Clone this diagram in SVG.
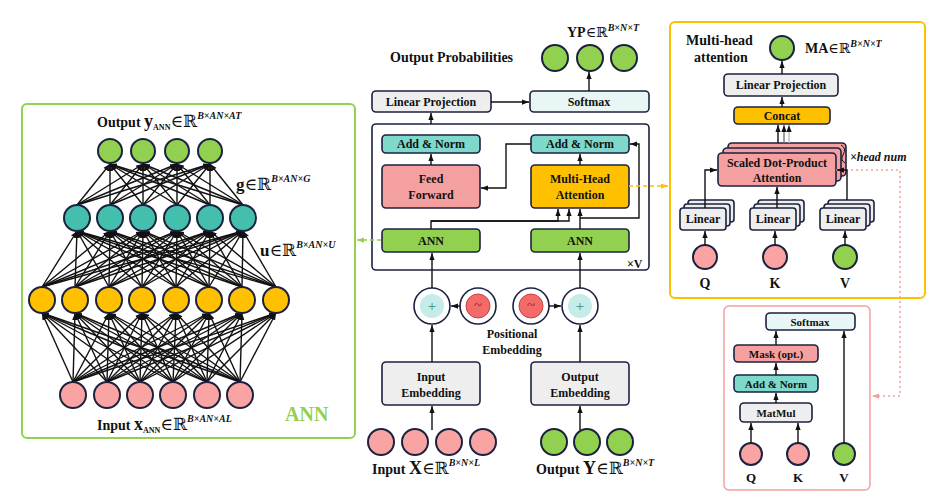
<svg xmlns="http://www.w3.org/2000/svg" width="948" height="504" viewBox="0 0 948 504">
<style>
text{font-family:"Liberation Serif",serif;font-weight:bold;fill:#111}
.b{stroke:#1b2240;stroke-width:1.6}
.c{stroke:#1b2240;stroke-width:2}
.w{stroke:#111;stroke-width:1.4;marker-end:url(#a)}
.k{stroke:#111;stroke-width:1.4;fill:none;marker-end:url(#a)}
.t{font-size:12px;text-anchor:middle}
.s{font-size:10px;font-style:italic}
.r{font-family:"DejaVu Serif",serif;font-weight:normal}
</style>
<defs>
<marker id="a" viewBox="0 0 8 6" refX="8" refY="3" markerWidth="7" markerHeight="6" markerUnits="userSpaceOnUse" orient="auto"><path d="M0,0L8,3L0,6z" fill="#111"/></marker>
<marker id="ao" viewBox="0 0 8 6" refX="8" refY="3" markerWidth="7" markerHeight="6" markerUnits="userSpaceOnUse" orient="auto"><path d="M0,0L8,3L0,6z" fill="#ffc000"/></marker>
<marker id="ag" viewBox="0 0 8 6" refX="8" refY="3" markerWidth="7" markerHeight="6" markerUnits="userSpaceOnUse" orient="auto"><path d="M0,0L8,3L0,6z" fill="#92d050"/></marker>
<marker id="ap" viewBox="0 0 8 6" refX="8" refY="3" markerWidth="7" markerHeight="6" markerUnits="userSpaceOnUse" orient="auto"><path d="M0,0L8,3L0,6z" fill="#f4a0a0"/></marker>
</defs>
<rect width="948" height="504" fill="#fff"/>

<g id="ann-panel">
<rect x="22" y="104" width="333" height="334" rx="5" fill="none" stroke="#92d050" stroke-width="2"/>
<text x="285" y="421" style="font-size:20px;fill:#92d050">ANN</text>
<text x="97" y="127" style="font-size:14px">Output  <tspan font-size="18">y</tspan><tspan font-size="8" dy="3">ANN</tspan><tspan class="r" font-size="17" dy="-3">∈ℝ</tspan><tspan class="s" dy="-8">B×AN×AT</tspan></text>
<text x="236" y="190" style="font-size:17px">g<tspan class="r">∈ℝ</tspan><tspan class="s" dy="-8">B×AN×G</tspan></text>
<text x="260" y="256" style="font-size:17px">u<tspan class="r">∈ℝ</tspan><tspan class="s" dy="-8">B×AN×U</tspan></text>
<text x="97" y="430" style="font-size:14px">Input  <tspan font-size="18">x</tspan><tspan font-size="8" dy="3">ANN</tspan><tspan class="r" font-size="17" dy="-3">∈ℝ</tspan><tspan class="s" dy="-8">B×AN×AL</tspan></text>
<g id="ann-lines">
<line class="w" x1="73" y1="382" x2="42" y2="313"/><line class="w" x1="73" y1="382" x2="75" y2="313"/><line class="w" x1="73" y1="382" x2="109" y2="313"/><line class="w" x1="73" y1="382" x2="142" y2="313"/><line class="w" x1="73" y1="382" x2="176" y2="313"/><line class="w" x1="73" y1="382" x2="209" y2="313"/><line class="w" x1="73" y1="382" x2="242" y2="313"/><line class="w" x1="73" y1="382" x2="276" y2="313"/>
<line class="w" x1="107" y1="382" x2="42" y2="313"/><line class="w" x1="107" y1="382" x2="75" y2="313"/><line class="w" x1="107" y1="382" x2="109" y2="313"/><line class="w" x1="107" y1="382" x2="142" y2="313"/><line class="w" x1="107" y1="382" x2="176" y2="313"/><line class="w" x1="107" y1="382" x2="209" y2="313"/><line class="w" x1="107" y1="382" x2="242" y2="313"/><line class="w" x1="107" y1="382" x2="276" y2="313"/>
<line class="w" x1="140" y1="382" x2="42" y2="313"/><line class="w" x1="140" y1="382" x2="75" y2="313"/><line class="w" x1="140" y1="382" x2="109" y2="313"/><line class="w" x1="140" y1="382" x2="142" y2="313"/><line class="w" x1="140" y1="382" x2="176" y2="313"/><line class="w" x1="140" y1="382" x2="209" y2="313"/><line class="w" x1="140" y1="382" x2="242" y2="313"/><line class="w" x1="140" y1="382" x2="276" y2="313"/>
<line class="w" x1="173" y1="382" x2="42" y2="313"/><line class="w" x1="173" y1="382" x2="75" y2="313"/><line class="w" x1="173" y1="382" x2="109" y2="313"/><line class="w" x1="173" y1="382" x2="142" y2="313"/><line class="w" x1="173" y1="382" x2="176" y2="313"/><line class="w" x1="173" y1="382" x2="209" y2="313"/><line class="w" x1="173" y1="382" x2="242" y2="313"/><line class="w" x1="173" y1="382" x2="276" y2="313"/>
<line class="w" x1="207" y1="382" x2="42" y2="313"/><line class="w" x1="207" y1="382" x2="75" y2="313"/><line class="w" x1="207" y1="382" x2="109" y2="313"/><line class="w" x1="207" y1="382" x2="142" y2="313"/><line class="w" x1="207" y1="382" x2="176" y2="313"/><line class="w" x1="207" y1="382" x2="209" y2="313"/><line class="w" x1="207" y1="382" x2="242" y2="313"/><line class="w" x1="207" y1="382" x2="276" y2="313"/>
<line class="w" x1="240" y1="382" x2="42" y2="313"/><line class="w" x1="240" y1="382" x2="75" y2="313"/><line class="w" x1="240" y1="382" x2="109" y2="313"/><line class="w" x1="240" y1="382" x2="142" y2="313"/><line class="w" x1="240" y1="382" x2="176" y2="313"/><line class="w" x1="240" y1="382" x2="209" y2="313"/><line class="w" x1="240" y1="382" x2="242" y2="313"/><line class="w" x1="240" y1="382" x2="276" y2="313"/>
<line class="w" x1="42" y1="287" x2="77" y2="231"/><line class="w" x1="42" y1="287" x2="110" y2="231"/><line class="w" x1="42" y1="287" x2="143" y2="231"/><line class="w" x1="42" y1="287" x2="177" y2="231"/><line class="w" x1="42" y1="287" x2="210" y2="231"/><line class="w" x1="42" y1="287" x2="243" y2="231"/>
<line class="w" x1="75" y1="287" x2="77" y2="231"/><line class="w" x1="75" y1="287" x2="110" y2="231"/><line class="w" x1="75" y1="287" x2="143" y2="231"/><line class="w" x1="75" y1="287" x2="177" y2="231"/><line class="w" x1="75" y1="287" x2="210" y2="231"/><line class="w" x1="75" y1="287" x2="243" y2="231"/>
<line class="w" x1="109" y1="287" x2="77" y2="231"/><line class="w" x1="109" y1="287" x2="110" y2="231"/><line class="w" x1="109" y1="287" x2="143" y2="231"/><line class="w" x1="109" y1="287" x2="177" y2="231"/><line class="w" x1="109" y1="287" x2="210" y2="231"/><line class="w" x1="109" y1="287" x2="243" y2="231"/>
<line class="w" x1="142" y1="287" x2="77" y2="231"/><line class="w" x1="142" y1="287" x2="110" y2="231"/><line class="w" x1="142" y1="287" x2="143" y2="231"/><line class="w" x1="142" y1="287" x2="177" y2="231"/><line class="w" x1="142" y1="287" x2="210" y2="231"/><line class="w" x1="142" y1="287" x2="243" y2="231"/>
<line class="w" x1="176" y1="287" x2="77" y2="231"/><line class="w" x1="176" y1="287" x2="110" y2="231"/><line class="w" x1="176" y1="287" x2="143" y2="231"/><line class="w" x1="176" y1="287" x2="177" y2="231"/><line class="w" x1="176" y1="287" x2="210" y2="231"/><line class="w" x1="176" y1="287" x2="243" y2="231"/>
<line class="w" x1="209" y1="287" x2="77" y2="231"/><line class="w" x1="209" y1="287" x2="110" y2="231"/><line class="w" x1="209" y1="287" x2="143" y2="231"/><line class="w" x1="209" y1="287" x2="177" y2="231"/><line class="w" x1="209" y1="287" x2="210" y2="231"/><line class="w" x1="209" y1="287" x2="243" y2="231"/>
<line class="w" x1="242" y1="287" x2="77" y2="231"/><line class="w" x1="242" y1="287" x2="110" y2="231"/><line class="w" x1="242" y1="287" x2="143" y2="231"/><line class="w" x1="242" y1="287" x2="177" y2="231"/><line class="w" x1="242" y1="287" x2="210" y2="231"/><line class="w" x1="242" y1="287" x2="243" y2="231"/>
<line class="w" x1="276" y1="287" x2="77" y2="231"/><line class="w" x1="276" y1="287" x2="110" y2="231"/><line class="w" x1="276" y1="287" x2="143" y2="231"/><line class="w" x1="276" y1="287" x2="177" y2="231"/><line class="w" x1="276" y1="287" x2="210" y2="231"/><line class="w" x1="276" y1="287" x2="243" y2="231"/>
<line class="w" x1="77" y1="205" x2="110" y2="164"/><line class="w" x1="77" y1="205" x2="143" y2="164"/><line class="w" x1="77" y1="205" x2="177" y2="164"/><line class="w" x1="77" y1="205" x2="210" y2="164"/>
<line class="w" x1="110" y1="205" x2="110" y2="164"/><line class="w" x1="110" y1="205" x2="143" y2="164"/><line class="w" x1="110" y1="205" x2="177" y2="164"/><line class="w" x1="110" y1="205" x2="210" y2="164"/>
<line class="w" x1="143" y1="205" x2="110" y2="164"/><line class="w" x1="143" y1="205" x2="143" y2="164"/><line class="w" x1="143" y1="205" x2="177" y2="164"/><line class="w" x1="143" y1="205" x2="210" y2="164"/>
<line class="w" x1="177" y1="205" x2="110" y2="164"/><line class="w" x1="177" y1="205" x2="143" y2="164"/><line class="w" x1="177" y1="205" x2="177" y2="164"/><line class="w" x1="177" y1="205" x2="210" y2="164"/>
<line class="w" x1="210" y1="205" x2="110" y2="164"/><line class="w" x1="210" y1="205" x2="143" y2="164"/><line class="w" x1="210" y1="205" x2="177" y2="164"/><line class="w" x1="210" y1="205" x2="210" y2="164"/>
<line class="w" x1="243" y1="205" x2="110" y2="164"/><line class="w" x1="243" y1="205" x2="143" y2="164"/><line class="w" x1="243" y1="205" x2="177" y2="164"/><line class="w" x1="243" y1="205" x2="210" y2="164"/>
</g>
<g id="ann-nodes" class="c">
<g fill="#92d050"><circle cx="110" cy="151" r="12"/><circle cx="143" cy="151" r="12"/><circle cx="177" cy="151" r="12"/><circle cx="210" cy="151" r="12"/></g>
<g fill="#45bfad"><circle cx="77" cy="218" r="13"/><circle cx="110" cy="218" r="13"/><circle cx="143" cy="218" r="13"/><circle cx="177" cy="218" r="13"/><circle cx="210" cy="218" r="13"/><circle cx="243" cy="218" r="13"/></g>
<g fill="#ffc000"><circle cx="42" cy="300" r="13"/><circle cx="75" cy="300" r="13"/><circle cx="109" cy="300" r="13"/><circle cx="142" cy="300" r="13"/><circle cx="176" cy="300" r="13"/><circle cx="209" cy="300" r="13"/><circle cx="242" cy="300" r="13"/><circle cx="276" cy="300" r="13"/></g>
<g fill="#f9a3a3"><circle cx="73" cy="395" r="13"/><circle cx="107" cy="395" r="13"/><circle cx="140" cy="395" r="13"/><circle cx="173" cy="395" r="13"/><circle cx="207" cy="395" r="13"/><circle cx="240" cy="395" r="13"/></g>
</g>
</g>

<g id="transformer">
<text x="390" y="62" style="font-size:14px">Output Probabilities</text>
<text x="567" y="37" style="font-size:14px">YP<tspan class="r">∈ℝ</tspan><tspan class="s" font-size="7" dy="-6">B×N×T</tspan></text>
<g class="c" fill="#92d050"><circle cx="555" cy="58" r="13"/><circle cx="590" cy="58" r="13"/><circle cx="624" cy="58" r="13"/></g>
<g id="linproj"><rect class="b" x="372" y="91" width="119" height="21" rx="4" fill="#eeeeee"/><text class="t" x="431" y="106">Linear Projection</text></g>
<g id="softmax"><rect class="b" x="530" y="91" width="119" height="21" rx="4" fill="#e8f6f6"/><text class="t" x="589" y="106">Softmax</text></g>
<rect class="b" x="372" y="124" width="277" height="146" rx="4" fill="none"/>
<text x="627" y="268" style="font-size:12px">×V</text>
<g id="an1"><rect class="b" x="382" y="135" width="98" height="18" rx="4" fill="#7fd8cc"/><text class="t" x="431" y="148">Add &amp; Norm</text></g>
<g id="an2"><rect class="b" x="531" y="135" width="98" height="18" rx="4" fill="#7fd8cc"/><text class="t" x="580" y="148">Add &amp; Norm</text></g>
<g id="ff"><rect class="b" x="382" y="165" width="98" height="43" rx="4" fill="#f4a0a0"/><text class="t" x="431" y="183">Feed</text><text class="t" x="431" y="199">Forward</text></g>
<g id="mha"><rect class="b" x="531" y="165" width="98" height="43" rx="4" fill="#ffc000"/><text class="t" x="580" y="183">Multi-Head</text><text class="t" x="580" y="199">Attention</text></g>
<g id="ann1"><rect class="b" x="382" y="229" width="98" height="23" rx="4" fill="#92d050"/><text class="t" x="431" y="245">ANN</text></g>
<g id="ann2"><rect class="b" x="531" y="229" width="98" height="23" rx="4" fill="#92d050"/><text class="t" x="580" y="245">ANN</text></g>
<g class="b"><circle cx="432" cy="306" r="18" fill="#fff"/><circle cx="432" cy="306" r="12" fill="#c5ece8" stroke="none"/><circle cx="478" cy="306" r="18" fill="#fff"/><circle cx="478" cy="306" r="12" fill="#f26a6a" stroke="#d04040" stroke-width="1"/><circle cx="531" cy="306" r="18" fill="#fff"/><circle cx="531" cy="306" r="12" fill="#f26a6a" stroke="#d04040" stroke-width="1"/><circle cx="580" cy="306" r="18" fill="#fff"/><circle cx="580" cy="306" r="12" fill="#c5ece8" stroke="none"/></g>
<g text-anchor="middle"><text x="432" y="311" style="font-size:15px;font-weight:normal;fill:#3a8a80">+</text><text x="580" y="311" style="font-size:15px;font-weight:normal;fill:#3a8a80">+</text><text x="478" y="310" style="font-size:15px;font-weight:normal;fill:#922">~</text><text x="531" y="310" style="font-size:15px;font-weight:normal;fill:#922">~</text></g>
<text class="t" x="512" y="338">Positional</text><text class="t" x="512" y="354">Embedding</text>
<g id="inemb"><rect class="b" x="382" y="362" width="98" height="43" rx="4" fill="#eeeeee"/><text class="t" x="431" y="381">Input</text><text class="t" x="431" y="397">Embedding</text></g>
<g id="outemb"><rect class="b" x="531" y="362" width="98" height="43" rx="4" fill="#eeeeee"/><text class="t" x="580" y="381">Output</text><text class="t" x="580" y="397">Embedding</text></g>
<g class="c" fill="#f9a3a3"><circle cx="381" cy="442" r="13"/><circle cx="415" cy="442" r="13"/><circle cx="449" cy="442" r="13"/><circle cx="483" cy="442" r="13"/></g>
<g class="c" fill="#92d050"><circle cx="554" cy="442" r="13"/><circle cx="587" cy="442" r="13"/><circle cx="620" cy="442" r="13"/></g>
<text x="372" y="474" style="font-size:14px">Input <tspan font-size="18">X</tspan><tspan class="r" font-size="17">∈ℝ</tspan><tspan class="s" dy="-8">B×N×L</tspan></text>
<text x="536" y="474" style="font-size:14px">Output <tspan font-size="18">Y</tspan><tspan class="r" font-size="17">∈ℝ</tspan><tspan class="s" dy="-8">B×N×T</tspan></text>
</g>

<g id="mha-panel">
<rect x="670" y="22" width="255" height="276" rx="5" fill="none" stroke="#ffc000" stroke-width="2"/>
<text x="686" y="45" style="font-size:14px">Multi-head</text><text x="694" y="62" style="font-size:14px">attention</text>
<circle class="c" cx="782" cy="48" r="12" fill="#92d050"/>
<text x="805" y="53" style="font-size:14px">MA<tspan class="r">∈ℝ</tspan><tspan class="s" font-size="7" dy="-6">B×N×T</tspan></text>
<rect class="b" x="724" y="74" width="114" height="22" rx="4" fill="#eeeeee"/><text class="t" x="781" y="89">Linear Projection</text>
<rect class="b" x="734" y="107" width="96" height="17" rx="4" fill="#ffc000"/><text class="t" x="782" y="120">Concat</text>
<rect class="b" x="728" y="143" width="118" height="33" rx="4" fill="#f4a0a0"/>
<rect class="b" x="723" y="148" width="118" height="33" rx="4" fill="#f4a0a0"/>
<rect class="b" x="718" y="153" width="118" height="33" rx="4" fill="#f4a0a0"/>
<text class="t" x="777" y="167">Scaled Dot-Product</text><text class="t" x="777" y="182">Attention</text>
<text x="850" y="161" style="font-size:12px;font-style:italic">×head num</text>
<path d="M841,145 q6,3 2,10 q-3,5 2,8" fill="none" stroke="#111" stroke-width="1"/>
<g class="b" fill="#eeeeee">
<rect x="688" y="200" width="46" height="22" rx="3"/><rect x="684" y="204" width="46" height="22" rx="3"/><rect x="680" y="208" width="46" height="22" rx="3"/>
<rect x="758" y="200" width="46" height="22" rx="3"/><rect x="754" y="204" width="46" height="22" rx="3"/><rect x="750" y="208" width="46" height="22" rx="3"/>
<rect x="828" y="200" width="46" height="22" rx="3"/><rect x="824" y="204" width="46" height="22" rx="3"/><rect x="820" y="208" width="46" height="22" rx="3"/>
</g>
<text class="t" x="703" y="223">Linear</text><text class="t" x="773" y="223">Linear</text><text class="t" x="843" y="223">Linear</text>
<circle class="c" cx="705" cy="257" r="12" fill="#f9a3a3"/><circle class="c" cx="775" cy="257" r="12" fill="#f9a3a3"/><circle class="c" cx="845" cy="257" r="12" fill="#92d050"/>
<text class="t" x="705" y="288" style="font-size:14px">Q</text><text class="t" x="775" y="288" style="font-size:14px">K</text><text class="t" x="845" y="288" style="font-size:14px">V</text>
</g>

<g id="sdpa-panel">
<rect x="724" y="306" width="146" height="184" rx="5" fill="none" stroke="#f4a0a0" stroke-width="1.5"/>
<rect class="b" x="766" y="313" width="89" height="17" rx="4" fill="#e8f6f6"/><text class="t" x="810" y="326" style="font-size:11px">Softmax</text>
<rect class="b" x="734" y="345" width="84" height="17" rx="4" fill="#f4a0a0"/><text class="t" x="776" y="358" style="font-size:11px">Mask (opt.)</text>
<rect class="b" x="734" y="375" width="84" height="17" rx="4" fill="#7fd8cc"/><text class="t" x="776" y="388" style="font-size:11px">Add &amp; Norm</text>
<rect class="b" x="740" y="403" width="72" height="19" rx="4" fill="#eeeeee"/><text class="t" x="776" y="417" style="font-size:11px">MatMul</text>
<circle class="c" cx="751" cy="454" r="11" fill="#f9a3a3"/><circle class="c" cx="798" cy="454" r="11" fill="#f9a3a3"/><circle class="c" cx="844" cy="454" r="11" fill="#92d050"/>
<text class="t" x="751" y="482" style="font-size:13px">Q</text><text class="t" x="798" y="482" style="font-size:13px">K</text><text class="t" x="844" y="482" style="font-size:13px">V</text>
</g>

<g id="connectors">
<line class="w" x1="431" y1="124" x2="431" y2="113"/>
<line class="w" x1="491" y1="102" x2="529" y2="102"/>
<line class="w" x1="589" y1="91" x2="589" y2="72"/>
<line class="w" x1="431" y1="165" x2="431" y2="154"/>
<line class="w" x1="580" y1="165" x2="580" y2="154"/>
<path class="k" d="M531,144 H506 V188 H481"/>
<path class="k" d="M580,218 H639 V144 H630"/>
<path class="k" d="M431,229 V221 H558 V209"/>
<path class="k" d="M431,221 H569 V209"/>
<line class="w" x1="580" y1="229" x2="580" y2="209"/>
<line class="w" x1="432" y1="288" x2="432" y2="253"/>
<line class="w" x1="580" y1="288" x2="580" y2="253"/>
<line class="w" x1="460" y1="306" x2="451" y2="306"/>
<line class="w" x1="549" y1="306" x2="561" y2="306"/>
<line class="w" x1="432" y1="362" x2="432" y2="325"/>
<line class="w" x1="580" y1="362" x2="580" y2="325"/>
<line class="w" x1="432" y1="430" x2="432" y2="406"/>
<line class="w" x1="580" y1="430" x2="580" y2="406"/>
<line x1="629" y1="186" x2="668" y2="186" stroke="#ffc000" stroke-width="1.5" stroke-dasharray="4,3" marker-end="url(#ao)"/>
<line x1="381" y1="240" x2="357" y2="240" stroke="#92d050" stroke-width="1.5" stroke-dasharray="4,3" marker-end="url(#ag)"/>
<path d="M836,170 H900 V396 H872" fill="none" stroke="#f4a0a0" stroke-width="1.5" stroke-dasharray="2,3" marker-end="url(#ap)"/>
<line class="w" x1="782" y1="74" x2="782" y2="61"/>
<line class="w" x1="782" y1="107" x2="782" y2="97"/>
<line class="w" x1="778" y1="143" x2="778" y2="125"/>
<line class="w" x1="784" y1="143" x2="784" y2="125" style="stroke:#777"/>
<line class="w" x1="789" y1="143" x2="789" y2="125" style="stroke:#bbb"/>
<path class="k" d="M705,208 V170 H717"/>
<line class="w" x1="777" y1="208" x2="777" y2="187"/>
<path class="k" d="M847,200 V170 H837"/>
<line class="w" x1="705" y1="245" x2="705" y2="231"/>
<line class="w" x1="775" y1="245" x2="775" y2="231"/>
<line class="w" x1="845" y1="245" x2="845" y2="231"/>
<line class="w" x1="776" y1="345" x2="776" y2="331"/>
<line class="w" x1="776" y1="375" x2="776" y2="363"/>
<line class="w" x1="776" y1="403" x2="776" y2="393"/>
<line class="w" x1="751" y1="443" x2="751" y2="423"/>
<line class="w" x1="798" y1="443" x2="798" y2="423"/>
<line class="w" x1="844" y1="443" x2="844" y2="331"/>
</g>
</svg>
